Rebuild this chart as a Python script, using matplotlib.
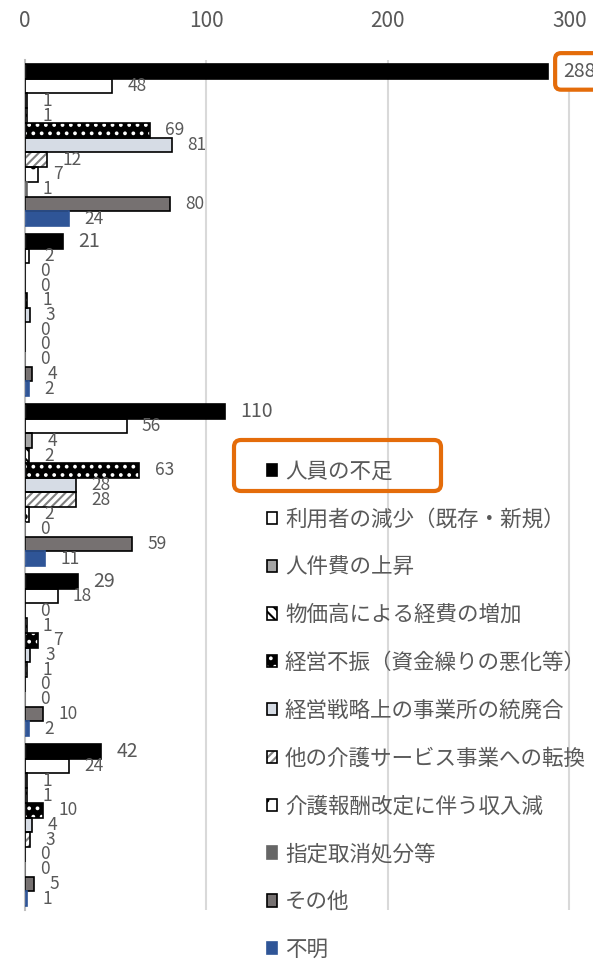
import matplotlib
matplotlib.use("Agg")
import matplotlib.pyplot as plt
from matplotlib.patches import FancyBboxPatch
import numpy as np

plt.rcParams['font.family'] = ['Noto Sans CJK JP', 'DejaVu Sans']
plt.rcParams['hatch.linewidth'] = 1.5

# groups (category names are not shown in the chart)
groups = ["区分1", "区分2", "区分3", "区分4", "区分5"]

reasons = ["人員の不足", "利用者の減少（既存・新規）", "人件費の上昇",
           "物価高による経費の増加", "経営不振（資金繰りの悪化等）",
           "経営戦略上の事業所の統廃合", "他の介護サービス事業への転換",
           "介護報酬改定に伴う収入減", "指定取消処分等", "その他", "不明"]

# one list per reason, values for the 5 groups
staff_shortage   = [288, 21, 110, 29, 42]
fewer_users      = [48, 2, 56, 18, 24]
labor_cost       = [1, 0, 4, 0, 1]
price_rise       = [1, 0, 2, 1, 1]
poor_management  = [69, 1, 63, 7, 10]
consolidation    = [81, 3, 28, 3, 4]
service_change   = [12, 0, 28, 1, 3]
fee_revision     = [7, 0, 2, 0, 0]
designation_cxl  = [1, 0, 0, 0, 0]
other            = [80, 4, 59, 10, 5]
unknown          = [24, 2, 11, 2, 1]

series = [staff_shortage, fewer_users, labor_cost, price_rise, poor_management,
          consolidation, service_change, fee_revision, designation_cxl, other, unknown]

# face, hatch, hatch colour, outline
styles = [
    ("#000000", None, None, "#000000"),
    ("#FFFFFF", None, None, "#000000"),
    ("#A5A5A5", None, None, "#000000"),
    ("#FFFFFF", "\\\\\\", "#000000", "#000000"),
    ("#000000", "..", "#FFFFFF", "#000000"),
    ("#D6DCE5", None, None, "#000000"),
    ("#FFFFFF", "////", "#808080", "#000000"),
    ("#FFFFFF", ".", "#000000", "#000000"),
    ("#666666", None, None, "#666666"),
    ("#767171", None, None, "#000000"),
    ("#2F5597", None, None, "#2F5597"),
]

orange = "#E46C0A"
txt = "#595959"

fig = plt.figure(figsize=(5.93, 9.59), dpi=100)
ax = fig.add_axes([25/593, 1-910/959, 1-25/593, (910-60)/959])

n = len(series)
h = 1.0 / (n + 0.55)
y0 = np.arange(len(groups))
handles = []
for i, (vals, (fc, hatch, hc, ec)) in enumerate(zip(series, styles)):
    ys = y0 - 0.5 + h * 0.275 + h * (i + 0.5)
    base = ax.barh(ys, vals, height=h, color=fc, hatch=hatch,
                   edgecolor=hc if hc else fc, linewidth=0, zorder=2)
    line = ax.barh(ys, vals, height=h, fill=False, edgecolor=ec,
                   linewidth=1.2, zorder=3)
    handles.append((base, line))
    for y, v in zip(ys, vals):
        size = 14 if i == 0 else 12.5
        kw = {}
        if i == 0 and v == max(vals):
            kw['bbox'] = dict(boxstyle="round,pad=0.4,rounding_size=0.3",
                              fc="white", ec=orange, lw=3)
        ax.annotate(str(v), (v, y), xytext=(11, 0), textcoords="offset points",
                    ha="left", va="center", fontsize=size, color=txt,
                    annotation_clip=False, zorder=4, **kw)

ax.set_ylim(len(groups) - 0.5, -0.5)
ax.set_xlim(0, 313)
ax.set_yticks([])
ax.set_xticks([0, 100, 200, 300])
ax.xaxis.tick_top()
ax.tick_params(axis="x", length=0, pad=20, labelsize=15, labelcolor=txt)
ax.grid(axis="x", color="#D9D9D9", linewidth=1.5, zorder=0)
for s in ["right", "bottom", "top"]:
    ax.spines[s].set_visible(False)
ax.spines["left"].set_color("#BFBFBF")
ax.spines["left"].set_linewidth(1.5)
ax.set_axisbelow(True)

leg = fig.legend(handles, reasons, loc="upper left",
                 bbox_to_anchor=(258/593, 1-452/959), frameon=False,
                 fontsize=15.5, labelcolor=txt, handlelength=0.5, handleheight=0.5,
                 handletextpad=0.35, labelspacing=1.2, borderaxespad=0)

# highlight box around first legend entry
fig.patches.append(FancyBboxPatch((2.34, (959-491)/100), 2.07, 0.51,
                                  boxstyle="round,pad=0,rounding_size=0.07",
                                  transform=fig.dpi_scale_trans, fill=False,
                                  ec=orange, lw=3, zorder=5))

fig.savefig("out.png", dpi=100)
